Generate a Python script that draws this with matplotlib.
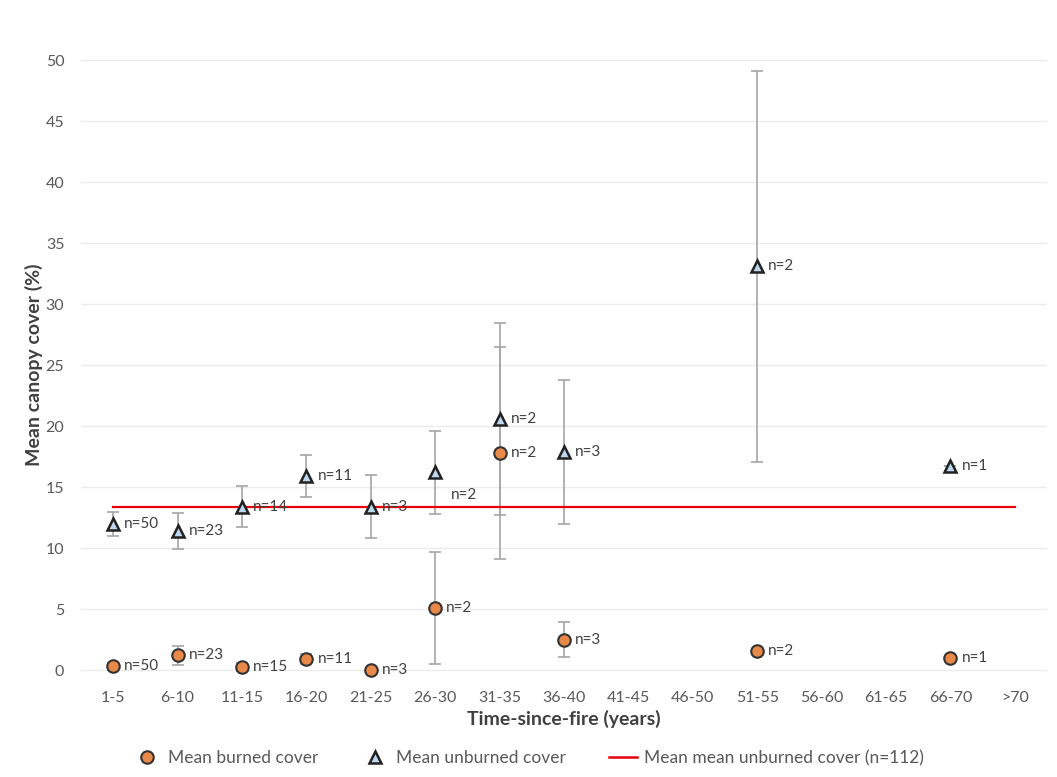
import numpy as np
import matplotlib
matplotlib.use("Agg")
import matplotlib.pyplot as plt
from matplotlib.lines import Line2D

plt.rcParams['font.family'] = ['Lato', 'DejaVu Sans']

categories = ['1-5', '6-10', '11-15', '16-20', '21-25', '26-30', '31-35', '36-40',
              '41-45', '46-50', '51-55', '56-60', '61-65', '66-70', '>70']
# category index of each measured class
idx = [0, 1, 2, 3, 4, 5, 6, 7, 10, 13]
burned_mean = [0.3, 1.2, 0.25, 0.9, 0.0, 5.1, 17.8, 2.5, 1.6, 1.0]
burned_err = [0.3, 0.8, 0.3, 0.4, 0.2, 4.6, 8.7, 1.4, 0.0, 0.0]
burned_n = [50, 23, 15, 11, 3, 2, 2, 3, 2, 1]
unburned_mean = [12.0, 11.4, 13.4, 15.9, 13.4, 16.2, 20.6, 17.9, 33.1, 16.7]
unburned_err = [1.0, 1.5, 1.7, 1.7, 2.6, 3.4, 7.9, 5.9, 16.0, 0.0]
unburned_n = [50, 23, 14, 11, 3, 2, 2, 3, 2, 1]
overall_mean = 13.4

fig = plt.figure(figsize=(10.57, 7.77), dpi=100)
ax = fig.add_axes([0.0766, 0.122, 0.914, 0.816])

x = np.arange(len(categories))

ax.errorbar(idx, unburned_mean, yerr=unburned_err, fmt='none', ecolor='#A6A6A6',
            elinewidth=1.2, capsize=4, capthick=1.2, zorder=2)
ax.errorbar(idx, burned_mean, yerr=burned_err, fmt='none', ecolor='#A6A6A6',
            elinewidth=1.2, capsize=4, capthick=1.2, zorder=2)

ax.plot(x, [overall_mean] * len(x), color='#E8000B', lw=1.6, zorder=3)

ax.plot(idx, unburned_mean, ls='none', marker='^', ms=8, mfc='#BDD7EE',
        mec='#222222', mew=1.8, zorder=4)
ax.plot(idx, burned_mean, ls='none', marker='o', ms=9, mfc='#E8894A',
        mec='#333333', mew=1.5, zorder=5)

for i, m, n in zip(idx, unburned_mean, unburned_n):
    if i == 5:
        ax.annotate(f'n={n}', (i, m), xytext=(11, -16), textcoords='offset points',
                    va='center', ha='left', fontsize=11, color='#404040')
    else:
        ax.annotate(f'n={n}', (i, m), xytext=(8, 0), textcoords='offset points',
                    va='center', ha='left', fontsize=11, color='#404040')
for i, m, n in zip(idx, burned_mean, burned_n):
    ax.annotate(f'n={n}', (i, m), xytext=(8, 0), textcoords='offset points',
                va='center', ha='left', fontsize=11, color='#404040')

ax.set_xlim(-0.5, 14.5)
ax.set_ylim(-1, 51)
ax.set_xticks(x)
ax.set_xticklabels(categories)
ax.set_yticks(np.arange(0, 51, 5))
ax.tick_params(length=0, labelsize=11.5, labelcolor='#595959')
ax.tick_params(axis='y', pad=12)
ax.tick_params(axis='x', pad=6)
ax.grid(axis='y', color='#EBEBEB', lw=1)
ax.set_axisbelow(True)
for s in ax.spines.values():
    s.set_visible(False)

ax.set_xlabel('Time-since-fire (years)', fontsize=14, fontweight='bold',
              color='#404040', labelpad=4)
ax.set_ylabel('Mean canopy cover (%)', fontsize=14, fontweight='bold',
              color='#404040', labelpad=2)

handles = [
    Line2D([], [], ls='none', marker='o', ms=9, mfc='#E8894A', mec='#333333', mew=1.5),
    Line2D([], [], ls='none', marker='^', ms=8, mfc='#BDD7EE', mec='#222222', mew=1.8),
    Line2D([], [], color='#E8000B', lw=1.8),
]
labels = ['Mean burned cover', 'Mean unburned cover', 'Mean mean unburned cover (n=112)']
fig.legend(handles, labels, loc='center', bbox_to_anchor=(0.5, 0.024), ncol=3,
           frameon=False, fontsize=12.5, labelcolor='#595959', columnspacing=2.5,
           handletextpad=0.4, handlelength=1.6)

fig.savefig('out.png', dpi=100)
